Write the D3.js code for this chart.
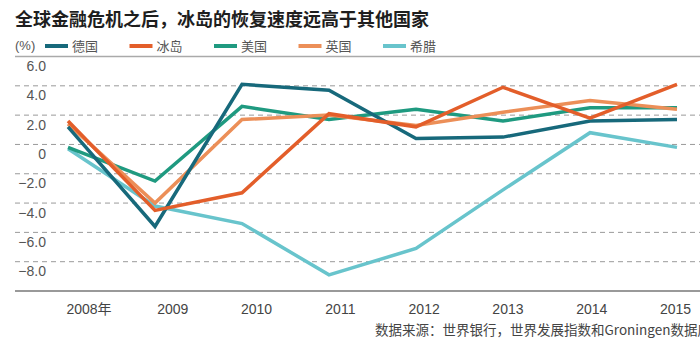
<!DOCTYPE html>
<html>
<head>
<meta charset="utf-8">
<script src="https://cdn.jsdelivr.net/npm/d3@7"></script>
<style>
  body { margin: 0; background: #fff; }
  svg { display: block; font-family: "Liberation Sans", Arial, sans-serif; }
  .cjk { font-family: "Noto Sans CJK SC", "Liberation Sans", sans-serif; }
</style>
</head>
<body>
<svg id="drawing_region"></svg>
<script>
// data, GDP growth (%)
const years = ["2008", "2009", "2010", "2011", "2012", "2013", "2014", "2015"];
const countries = ["德国", "冰岛", "美国", "英国", "希腊"];
const germany = [1.2, -5.6, 4.1, 3.7, 0.4, 0.5, 1.6, 1.7];
const iceland = [1.6, -4.5, -3.3, 2.1, 1.2, 3.9, 1.8, 4.1];
const usa = [-0.2, -2.5, 2.6, 1.7, 2.4, 1.6, 2.5, 2.5];
const uk = [1.4, -4.0, 1.7, 2.0, 1.3, 2.2, 3.0, 2.4];
const greece = [-0.3, -4.2, -5.4, -8.9, -7.1, -3.1, 0.8, -0.2];
const yTicks = [6, 4, 2, 0, -2, -4, -6, -8];

const colors = ["#17697b", "#e35e2a", "#1f9a80", "#ec8f58", "#68c4cc"];
const seriesData = [germany, iceland, usa, uk, greece];

const config = {
    width: 700,
    height: 350,
    left: 15,
    right: 700
};

const svg = d3.select('#drawing_region')
    .attr('width', config.width)
    .attr('height', config.height);

// scales
const yscale = d3.scaleLinear().domain([-10, 6]).range([291, 56.5]);
const xscale = d3.scalePoint().domain(years).range([68, 677]);
const xlabelScale = d3.scalePoint().domain(years).range([88.5, 675]);

// title
svg.append('text')
    .attr('class', 'cjk')
    .attr('x', 15)
    .attr('y', 26)
    .attr('font-size', 18)
    .attr('font-weight', 'bold')
    .attr('fill', '#1e1e1e')
    .text('全球金融危机之后，冰岛的恢复速度远高于其他国家');

// legend
svg.append('text')
    .attr('x', 15)
    .attr('y', 50)
    .attr('font-size', 13)
    .attr('fill', '#555')
    .text('(%)');

const legend = svg.selectAll('.legend').data(countries).enter()
    .append('g')
    .attr('class', 'legend')
    .attr('transform', (d, i) => `translate(${45 + i * 84.5}, 46)`);
legend.append('line')
    .attr('x1', 0).attr('x2', 23)
    .attr('stroke', (d, i) => colors[i])
    .attr('stroke-width', 4);
legend.append('text')
    .attr('class', 'cjk')
    .attr('x', 27)
    .attr('y', 4.5)
    .attr('font-size', 13)
    .attr('fill', '#555')
    .text(d => d);

// grid
svg.selectAll('.grid').data(yTicks.filter(d => d < 6)).enter()
    .append('line')
    .attr('x1', config.left).attr('x2', config.right)
    .attr('y1', d => yscale(d)).attr('y2', d => yscale(d))
    .attr('stroke', '#9a9a9a')
    .attr('stroke-width', 1)
    .attr('stroke-dasharray', '5,4');

svg.append('line')
    .attr('x1', config.left).attr('x2', config.right)
    .attr('y1', yscale(6)).attr('y2', yscale(6))
    .attr('stroke', '#aaa')
    .attr('stroke-width', 1.5);

svg.append('line')
    .attr('x1', config.left).attr('x2', config.right)
    .attr('y1', yscale(-10)).attr('y2', yscale(-10))
    .attr('stroke', '#777')
    .attr('stroke-width', 1.5);

// y axis labels (sit below their grid line)
const yaxis = d3.axisLeft(yscale)
    .tickValues(yTicks)
    .tickSize(0)
    .tickPadding(0)
    .tickFormat(d => d === 0 ? "0" : d3.format(".1f")(d));
const yaxis_group = svg.append('g')
    .attr('transform', 'translate(46, 0)')
    .call(yaxis);
yaxis_group.select('.domain').remove();
yaxis_group.selectAll('text')
    .attr('dy', '1em')
    .attr('font-size', 14)
    .attr('font-family', '"Liberation Sans", Arial, sans-serif')
    .attr('fill', '#555');

// x axis labels
const xaxis = d3.axisBottom(xlabelScale)
    .tickSize(0)
    .tickPadding(0)
    .tickFormat((d, i) => i === 0 ? d + "年" : d);
const xaxis_group = svg.append('g')
    .attr('transform', 'translate(0, 304)')
    .call(xaxis);
xaxis_group.select('.domain').remove();
xaxis_group.selectAll('text')
    .attr('dy', '0.71em')
    .attr('font-size', 14)
    .attr('font-family', '"Liberation Sans", "Noto Sans CJK SC", sans-serif')
    .attr('fill', '#444');

// lines
const line = d3.line()
    .x((d, i) => xscale(years[i]))
    .y(d => yscale(d));

const drawOrder = [4, 2, 3, 0, 1];
svg.selectAll('.series').data(drawOrder).enter()
    .append('path')
    .attr('d', k => line(seriesData[k]))
    .attr('fill', 'none')
    .attr('stroke', k => colors[k])
    .attr('stroke-width', 3.5)
    .attr('stroke-linejoin', 'miter');

// source
svg.append('text')
    .attr('class', 'cjk')
    .attr('x', 375)
    .attr('y', 335)
    .attr('font-size', 13.5)
    .attr('fill', '#444')
    .text('数据来源：世界银行，世界发展指数和Groningen数据库');
</script>
</body>
</html>
